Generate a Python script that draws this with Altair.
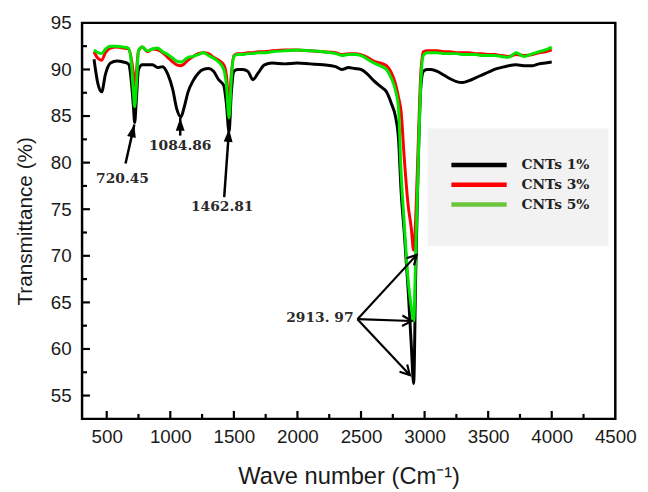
import altair as alt
import pandas as pd

# ---------------- data ----------------
wave = [400, 430, 460, 490, 530, 580, 630, 670, 695, 710, 720, 732, 750, 780, 820, 860, 900, 940, 980,
        1020, 1050, 1084, 1110, 1140, 1180, 1220, 1260, 1300, 1340, 1380, 1420, 1440, 1462, 1480, 1500,
        1530, 1570, 1610, 1650, 1690, 1740, 1800, 1900, 2000, 2100, 2200, 2300, 2350, 2400, 2450, 2500,
        2550, 2600, 2650, 2700, 2740, 2770, 2795, 2815, 2840, 2870, 2895, 2914, 2930, 2950, 2970, 2990,
        3020, 3050, 3100, 3150, 3200, 3250, 3300, 3350, 3400, 3450, 3500, 3550, 3600, 3660, 3720, 3780,
        3850, 3900, 3950, 4000]

cnt1 = [91.1, 88.5, 87.6, 89.5, 90.7, 90.9, 90.8, 90.6, 88.5, 86.0, 84.3, 86.5, 90.0, 90.5, 90.5, 90.5,
        90.2, 90.3, 89.5, 87.8, 85.8, 84.9, 86.0, 87.6, 88.8, 89.6, 90.0, 90.1, 89.8, 88.9, 88.3, 86.5,
        83.3, 87.5, 89.8, 90.0, 90.0, 89.8, 88.9, 89.6, 90.5, 90.7, 90.6, 90.7, 90.6, 90.5, 90.3, 90.0,
        90.2, 90.1, 90.0, 89.5, 88.8, 88.2, 87.6, 86.3, 85.0, 82.5, 77.0, 72.5, 66.5, 60.5, 56.3, 68.0,
        80.0, 88.0, 89.8, 90.0, 90.0, 89.8, 89.4, 89.0, 88.7, 88.6, 88.8, 89.1, 89.4, 89.7, 90.0, 90.2,
        90.4, 90.5, 90.4, 90.4, 90.6, 90.7, 90.8]

cnt3 = [91.9, 91.2, 91.0, 91.8, 92.3, 92.4, 92.3, 92.2, 91.0, 89.5, 88.2, 89.5, 92.0, 92.4, 91.9, 92.2,
        92.1, 91.8, 91.3, 90.8, 90.5, 90.4, 90.6, 91.0, 91.4, 91.7, 91.8, 91.7, 91.3, 91.0, 90.5, 89.5,
        86.5, 89.5, 91.5, 91.7, 91.7, 91.8, 91.8, 91.9, 91.9, 92.0, 92.1, 92.1, 92.0, 91.9, 91.8, 91.6,
        91.7, 91.7, 91.6, 91.3, 90.9, 90.7, 90.4, 89.6, 88.5, 87.0, 85.5, 80.5, 75.5, 73.0, 70.6, 74.0,
        82.0, 89.5, 91.9, 92.0, 92.0, 92.0, 91.9, 91.9, 91.8, 91.8, 91.8, 91.7, 91.7, 91.6, 91.6, 91.5,
        91.4, 91.6, 91.5, 91.6, 91.8, 91.9, 92.1]

cnt5 = [92.1, 91.8, 91.7, 92.2, 92.5, 92.5, 92.4, 92.3, 90.5, 87.5, 86.0, 88.0, 92.0, 92.4, 92.0, 92.2,
        92.3, 91.9, 91.6, 91.2, 90.9, 90.8, 91.0, 91.3, 91.4, 91.6, 91.8, 91.5, 91.2, 90.8, 90.0, 88.5,
        84.8, 89.0, 91.4, 91.6, 91.6, 91.7, 91.7, 91.8, 91.8, 91.9, 92.0, 92.1, 92.0, 91.9, 91.7, 91.5,
        91.6, 91.6, 91.5, 91.1, 90.7, 90.4, 90.0, 89.0, 87.8, 85.8, 79.0, 73.5, 67.5, 64.5, 63.0, 70.0,
        80.0, 88.5, 91.5, 91.8, 91.8, 91.8, 91.7, 91.7, 91.7, 91.6, 91.6, 91.6, 91.5, 91.5, 91.5, 91.4,
        91.3, 91.8, 91.4, 91.7, 91.9, 92.1, 92.4]

series_names = ["CNTs 1%", "CNTs 3%", "CNTs 5%"]
series_values = [cnt1, cnt3, cnt5]
series_colors = ["#000000", "#ff0000", "#00e600"]

x_labels = [500, 1000, 1500, 2000, 2500, 3000, 3500, 4000, 4500]
x_major = [500, 1000, 1500, 2000, 2500, 3000, 3500, 4000]
x_minor = [750, 1250, 1750, 2250, 2750, 3250, 3750, 4250]
y_labels = [55, 60, 65, 70, 75, 80, 85, 90, 95]
y_major = [55, 60, 65, 70, 75, 80, 85, 90]
y_minor = [57.5, 62.5, 67.5, 72.5, 77.5, 82.5, 87.5, 92.5]

# peak annotations
peak_text = ["720.45", "1084.86", "1462.81"]
peak_text_x = [624, 1078, 1408]
peak_text_y = [78.2, 81.8, 75.2]
arrow_x0 = [648, 1078, 1424]
arrow_y0 = [79.9, 82.9, 76.3]
arrow_x1 = [717, 1078, 1462]
arrow_y1 = [84.1, 84.8, 83.6]
arrow_angle = [13, 0, 4]

ch_text = "2913. 97"
ch_text_x = 2441
ch_text_y = 63.3
ch_x0 = [2472, 2472, 2472]
ch_y0 = [63.2, 63.2, 63.2]
ch_x1 = [2938, 2899, 2884]
ch_y1 = [70.1, 63.0, 57.2]
ch_angle = [43, 92, 137]

W, H = 540, 401
SANS = "Liberation Sans"
SERIF = "DejaVu Serif"

xscale = alt.Scale(domain=[306, 4500], nice=False, zero=False)
yscale = alt.Scale(domain=[52.5, 95], nice=False, zero=False)

xaxis = alt.Axis(values=x_labels, format="d", title="Wave number (Cm⁻¹)", ticks=False, domain=False,
                 grid=False, labelFont=SANS, labelFontSize=19, labelColor="#1a1a1a", labelPadding=9,
                 labelFlush=False, labelOverlap=False,
                 titleFont=SANS, titleFontSize=24, titleFontWeight="normal", titleColor="#1a1a1a",
                 titlePadding=18)
yaxis = alt.Axis(values=y_labels, format="d", title="Transmittance (%)", ticks=False, domain=False,
                 grid=False, labelFont=SANS, labelFontSize=19, labelColor="#1a1a1a", labelPadding=11,
                 labelOverlap=False,
                 titleFont=SANS, titleFontSize=21, titleFontWeight="normal", titleColor="#1a1a1a",
                 titlePadding=15)


def X(field):
    return alt.X(field, scale=xscale, axis=xaxis)


def Y(field):
    return alt.Y(field, scale=yscale, axis=yaxis)


layers = []

# curves
for name, vals, col in zip(series_names, series_values, series_colors):
    d = pd.DataFrame({"wave": wave, "value": vals})
    layers.append(alt.Chart(d).mark_line(color=col, strokeWidth=3, interpolate="monotone").encode(
        x=X("wave:Q"), y=Y("value:Q")))


# inward ticks
def xticks(vals, length):
    return alt.Chart(pd.DataFrame({"wave": vals})).mark_rule(color="black", strokeWidth=2.2).encode(
        x=X("wave:Q"), y=alt.value(H), y2=alt.value(H - length))


def yticks(vals, length):
    return alt.Chart(pd.DataFrame({"value": vals})).mark_rule(color="black", strokeWidth=2.2).encode(
        y=Y("value:Q"), x=alt.value(0), x2=alt.value(length))


layers += [xticks(x_major, 8), xticks(x_minor, 5), yticks(y_major, 8), yticks(y_minor, 5)]

# filled arrows to peaks
arr = pd.DataFrame({"wave": arrow_x0, "value": arrow_y0, "x1": arrow_x1, "y1": arrow_y1,
                    "ang": arrow_angle})
layers.append(alt.Chart(arr).mark_rule(color="black", strokeWidth=2.5).encode(
    x=X("wave:Q"), y=Y("value:Q"), x2="x1:Q", y2="y1:Q"))
head = pd.DataFrame({"wave": arrow_x1, "value": arrow_y1, "ang": arrow_angle})
layers.append(alt.Chart(head).mark_point(shape="M0,0L-0.45,1.3L0.45,1.3Z", filled=True, color="black",
                                         size=400, opacity=1).encode(
    x=X("wave:Q"), y=Y("value:Q"), angle=alt.Angle("ang:Q", scale=None)))

ptxt = pd.DataFrame({"t": peak_text, "wave": peak_text_x, "value": peak_text_y})
layers.append(alt.Chart(ptxt).mark_text(font=SERIF, fontSize=14, fontWeight="bold", color="#2a2a2a",
                                        align="center", baseline="middle").encode(
    x=X("wave:Q"), y=Y("value:Q"), text="t:N"))

# 2913.97 open arrows
ch = pd.DataFrame({"wave": ch_x0, "value": ch_y0, "x1": ch_x1, "y1": ch_y1})
layers.append(alt.Chart(ch).mark_rule(color="black", strokeWidth=2.2).encode(
    x=X("wave:Q"), y=Y("value:Q"), x2="x1:Q", y2="y1:Q"))
chh = pd.DataFrame({"wave": ch_x1, "value": ch_y1, "ang": ch_angle})
layers.append(alt.Chart(chh).mark_point(shape="M-0.55,1L0,0L0.55,1", filled=False, color="black",
                                        strokeWidth=2.2, size=370, opacity=1).encode(
    x=X("wave:Q"), y=Y("value:Q"), angle=alt.Angle("ang:Q", scale=None)))
layers.append(alt.Chart(pd.DataFrame({"t": [ch_text], "wave": [ch_text_x], "value": [ch_text_y]})).mark_text(
    font=SERIF, fontSize=14, fontWeight="bold", color="#2a2a2a", align="right", baseline="middle").encode(
    x=X("wave:Q"), y=Y("value:Q"), text="t:N"))

# legend (drawn manually)
one = pd.DataFrame({"a": [0]})
layers.append(alt.Chart(one).mark_rect(color="#f2f2f2").encode(
    x=alt.value(350), x2=alt.value(533), y=alt.value(107), y2=alt.value(226)))
for i, (name, col) in enumerate(zip(series_names, series_colors)):
    yy = 144 + 20 * i
    lcol = "#6cc63c" if i == 2 else col
    layers.append(alt.Chart(one).mark_rule(color=lcol, strokeWidth=4.5).encode(
        x=alt.value(374), x2=alt.value(430), y=alt.value(yy)))
    layers.append(alt.Chart(one).mark_text(text=name, font=SERIF, fontSize=14, fontWeight="bold",
                                           color="#222222", align="left", baseline="middle").encode(
        x=alt.value(445), y=alt.value(yy)))

chart = alt.layer(*layers).properties(
    width=W, height=H,
    background="white",
    padding={"left": 75, "top": 12, "right": 25, "bottom": 71},
    autosize=alt.AutoSizeParams(type="none"),
).configure_view(stroke="black", strokeWidth=2.5)

chart.save("out.html", embed_options={"renderer": "svg", "actions": False})
